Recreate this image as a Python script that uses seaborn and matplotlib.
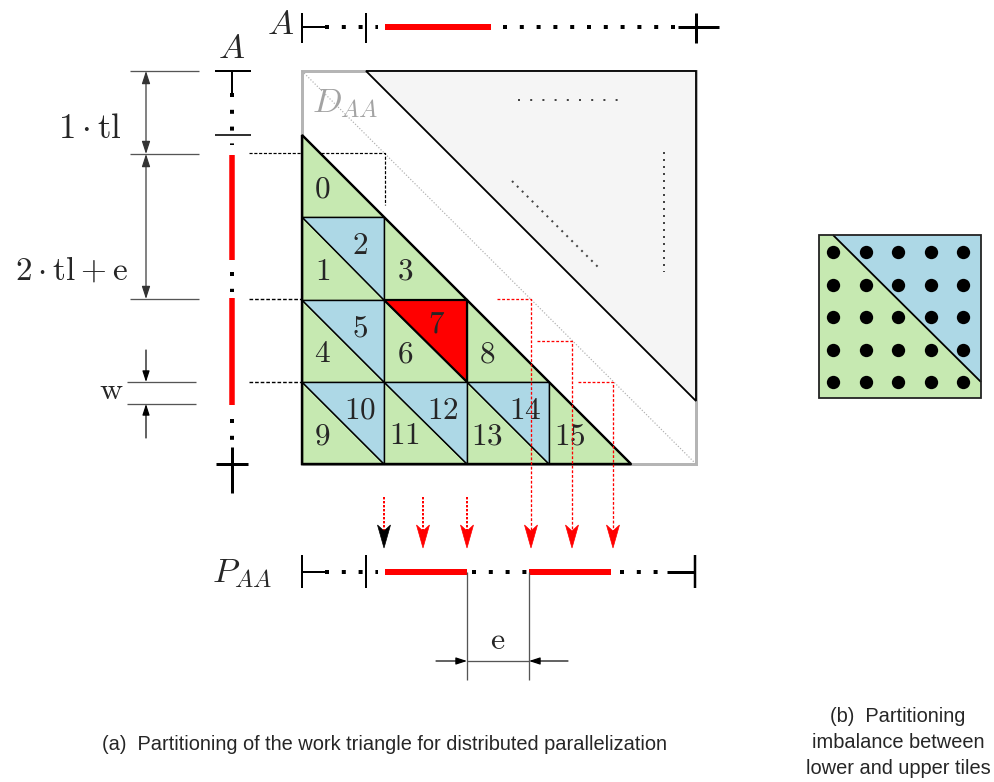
import matplotlib
matplotlib.use("Agg")
import numpy as np
import pandas as pd
import matplotlib.pyplot as plt
from matplotlib.patches import Polygon
import seaborn as sns

# ---------------- data ----------------
TILE_IDS = [0, 1, 2, 3, 4, 5, 6, 7, 8, 9, 10, 11, 12, 13, 14, 15]
TILE_ROWS = [0, 1, 1, 1, 2, 2, 2, 2, 2, 3, 3, 3, 3, 3, 3, 3]
TILE_COLS = [0, 0, 0, 1, 0, 0, 1, 1, 2, 0, 0, 1, 1, 2, 2, 3]
TILE_HALF = ["L", "L", "U", "L", "L", "U", "L", "U", "L", "L", "U", "L", "U", "L", "U", "L"]
ACTIVE_TILE = 7

TOP_RED = [(385, 491)]
LEFT_RED = [(155, 260), (298, 405)]
P_RED = [(385, 467), (529, 611)]

DOT_ROWS = [0, 1, 2, 3, 4]
DOT_COLS = [0, 1, 2, 3, 4]

CAPTION_A = "(a)  Partitioning of the work triangle for distributed parallelization"
CAPTION_B = ["(b)  Partitioning", "imbalance between", "lower and upper tiles"]

# ---------------- style ----------------
sns.set_theme(style="white")
plt.rcParams["font.family"] = ["Liberation Sans", "DejaVu Sans"]
plt.rcParams["mathtext.fontset"] = "cm"

PX = 0.72  # points per pixel at dpi 100
GREEN = "#c6e9b1"
BLUE = "#add8e6"
RED = "#ff0000"

fig = plt.figure(figsize=(9.94, 7.82), dpi=100)
ax = fig.add_axes([0, 0, 1, 1])


def seg(x0, y0, x1, y1, color="black", w=2, ls="-", cap="butt", z=3):
    ax.plot([x0, x1], [y0, y1], color=color, lw=w * PX, linestyle=ls,
            solid_capstyle=cap, dash_capstyle=cap, zorder=z)


DOTS = (0, (1, 3.2))

# ---------------- square and upper triangle ----------------
SQ_L, SQ_T, SQ_R, SQ_B = 302, 71, 696, 464
ax.add_patch(Polygon([(SQ_L, SQ_T), (SQ_R, SQ_T), (SQ_R, SQ_B), (SQ_L, SQ_B)],
                     closed=True, facecolor="white", edgecolor="#b5b5b5",
                     lw=3 * PX, zorder=1))
ax.add_patch(Polygon([(366, SQ_T), (SQ_R, SQ_T), (SQ_R, 401)], closed=True,
                     facecolor="#f5f5f5", edgecolor="black", lw=1.8 * PX, zorder=2))
seg(SQ_L, SQ_T, SQ_R, SQ_B, color="#b0b0b0", w=1.2, ls=(0, (1, 1.5)), z=2)
# ellipsis dots inside the upper triangle
seg(518, 100, 618, 100, color="#444444", w=2, ls=(0, (1, 5.1)), z=3)
seg(512, 181, 600, 269, color="#444444", w=2, ls=(0, (1, 2.5)), z=3)
seg(664, 152, 664, 272, color="#444444", w=2, ls=(0, (1, 2.5)), z=3)
ax.text(312, 103, r"$D_{AA}$", fontsize=25, color="#a3a3a3", ha="left", va="center", zorder=4)

# ---------------- tiles ----------------
X0, Y0, T = 302, 135, 82.25
for tid, r, c, h in zip(TILE_IDS, TILE_ROWS, TILE_COLS, TILE_HALF):
    xl, xr = X0 + c * T, X0 + (c + 1) * T
    yt, yb = Y0 + r * T, Y0 + (r + 1) * T
    if h == "L":
        pts = [(xl, yt), (xl, yb), (xr, yb)]
        col = GREEN
        lx, ly = xl + 0.25 * T, yt + 0.665 * T
    else:
        pts = [(xl, yt), (xr, yt), (xr, yb)]
        col = BLUE
        lx, ly = xl + 0.71 * T, yt + 0.35 * T
    lw = 1.4
    if tid == ACTIVE_TILE:
        col = RED
        lw = 2.2
        lx, ly = xl + 0.63 * T, yt + 0.30 * T
    ax.add_patch(Polygon(pts, closed=True, facecolor=col, edgecolor="black",
                         lw=lw * PX, zorder=5))
    ax.text(lx, ly, "$%d$" % tid, fontsize=22.5, ha="center", va="center", zorder=6)

n = max(TILE_ROWS) + 1
ax.add_patch(Polygon([(X0, Y0), (X0, Y0 + n * T), (X0 + n * T, Y0 + n * T)],
                     closed=True, fill=False, edgecolor="black", lw=2.4 * PX, zorder=7))

# ---------------- top A axis ----------------
ya = 27
seg(302, 13, 302, 43)
seg(302, ya, 325, ya)
seg(325, ya, 378, ya, w=4, ls=DOTS)
seg(366, 13, 366, 43)
for a, b in TOP_RED:
    seg(a, ya, b, ya, color=RED, w=6)
seg(503, ya, 676, ya, w=4, ls=DOTS)
seg(678, ya, 719, ya, w=3)
seg(696, 13, 696, 43, w=3)
ax.text(281, 25, r"$A$", fontsize=25, ha="center", va="center")

# ---------------- left A axis ----------------
xa = 232
seg(215, 71, 251, 71)
seg(xa, 71, xa, 93)
seg(xa, 93, xa, 145, w=4, ls=DOTS)
seg(215, 135, 251, 135, w=1.6)
for a, b in LEFT_RED:
    seg(xa, a, xa, b, color=RED, w=5.5)
seg(xa, 272, xa, 292, w=4, ls=DOTS)
seg(xa, 419, xa, 440, w=4, ls=DOTS)
seg(216, 464, 248, 464, w=3)
seg(xa, 447, xa, 493, w=3)
ax.text(xa, 48, r"$A$", fontsize=25, ha="center", va="center")

# dimension lines left
DIM = "#555555"
for yy in (71, 154, 299):
    seg(130, yy, 199, yy, color=DIM, w=1.3)
for yy in (382, 404):
    seg(127, yy, 196, yy, color=DIM, w=1.3)
aprops = dict(arrowstyle="<|-|>,head_length=0.55,head_width=0.18", color="#333333",
              lw=1.2 * PX, shrinkA=0, shrinkB=0, mutation_scale=14)
ax.annotate("", xy=(146, 71), xytext=(146, 154), arrowprops=aprops)
ax.annotate("", xy=(146, 154), xytext=(146, 299), arrowprops=aprops)
sprops = dict(arrowstyle="-|>,head_length=0.55,head_width=0.18", color="black",
              lw=1.2 * PX, shrinkA=0, shrinkB=0, mutation_scale=12)
ax.annotate("", xy=(146, 382), xytext=(146, 350), arrowprops=sprops)
ax.annotate("", xy=(146, 404), xytext=(146, 438), arrowprops=sprops)
ax.text(90, 129, r"$1\cdot\mathrm{tl}$", fontsize=25, ha="center", va="center")
ax.text(72, 271, r"$2\cdot\mathrm{tl}+\mathrm{e}$", fontsize=24, ha="center", va="center")
ax.text(111, 391, r"$\mathrm{w}$", fontsize=23, ha="center", va="center")

# ---------------- dashed guides ----------------
DASH = (0, (2.6, 1.4))
ax.plot([249, 385, 385], [153, 153, 205], color="black", lw=1.2 * PX, linestyle=DASH, zorder=3)
seg(249, 299, 302, 299, w=1.4, ls=DASH)
seg(249, 382, 302, 382, w=1.4, ls=DASH)

RDASH = (0, (2.2, 1.4))
TIP = 548
ROUTES = [(497, 299, 531), (537, 341, 572), (578, 382, 613)]
for xs, ys, xv in ROUTES:
    ax.plot([xs, xv, xv], [ys, ys, TIP - 17], color=RED, lw=1.3 * PX,
            linestyle=RDASH, zorder=8)


def stealth(x, color):
    ax.add_patch(Polygon([(x, TIP), (x - 6.5, TIP - 23), (x, TIP - 17), (x + 6.5, TIP - 23)],
                         closed=True, facecolor=color, edgecolor=color, lw=0.5, zorder=9))


for x, col in ((384, "black"), (423, RED), (467, RED)):
    ax.plot([x, x], [497, TIP - 17], color=RED, lw=2 * PX, linestyle=(0, (1.2, 0.8)), zorder=8)
    stealth(x, col)
for _, _, xv in ROUTES:
    stealth(xv, RED)

# ---------------- P_AA axis ----------------
yp = 572
seg(302, 555, 302, 588)
seg(302, yp, 325, yp)
seg(325, yp, 378, yp, w=4, ls=DOTS)
seg(366, 555, 366, 588)
for a, b in P_RED:
    seg(a, yp, b, yp, color=RED, w=6)
seg(472, yp, 527, yp, w=4, ls=DOTS)
seg(620, yp, 666, yp, w=4, ls=DOTS)
seg(667, yp, 695, yp, w=3)
seg(695, 555, 695, 588, w=2.5)
ax.text(242, 574, r"$P_{AA}$", fontsize=25, ha="center", va="center")

# e dimension
seg(467, yp, 467, 680, color=DIM, w=1.3)
seg(529, yp, 529, 680, color=DIM, w=1.3)
seg(467, 661, 529, 661, color=DIM, w=1.3)
ax.annotate("", xy=(467, 661), xytext=(436, 661), arrowprops=sprops)
ax.annotate("", xy=(529, 661), xytext=(568, 661), arrowprops=sprops)
ax.text(498, 641, r"$\mathrm{e}$", fontsize=23, ha="center", va="center")

# ---------------- panel (b) ----------------
BL, BT, BR, BB = 819, 235, 981, 398
ax.add_patch(Polygon([(BL, BT), (833, BT), (BR, 382), (BR, BB), (BL, BB)], closed=True,
                     facecolor=GREEN, edgecolor="none", zorder=2))
ax.add_patch(Polygon([(833, BT), (BR, BT), (BR, 382)], closed=True,
                     facecolor=BLUE, edgecolor="none", zorder=2))
seg(833, BT, BR, 382, w=1.8, z=3)
ax.add_patch(Polygon([(BL, BT), (BR, BT), (BR, BB), (BL, BB)], closed=True,
                     fill=False, edgecolor="#222222", lw=1.8 * PX, zorder=3))
gx0, gy0, gs = 833, 252, 32.6
dots = pd.DataFrame([(gx0 + c * gs, gy0 + r * gs) for r in DOT_ROWS for c in DOT_COLS],
                    columns=["x", "y"])
sns.scatterplot(data=dots, x="x", y="y", s=92, color="black", edgecolor="black",
                linewidth=0, ax=ax, legend=False, zorder=4)

# ---------------- captions ----------------
ax.text(384, 744, CAPTION_A, fontsize=14.4, ha="center", va="center")
for i, line in enumerate(CAPTION_B):
    ax.text(898, 717 + i * 25.5, line, fontsize=14.4, ha="center", va="center")

ax.set_xlim(0, 994)
ax.set_ylim(782, 0)
ax.axis("off")
fig.savefig("out.png", dpi=100)
